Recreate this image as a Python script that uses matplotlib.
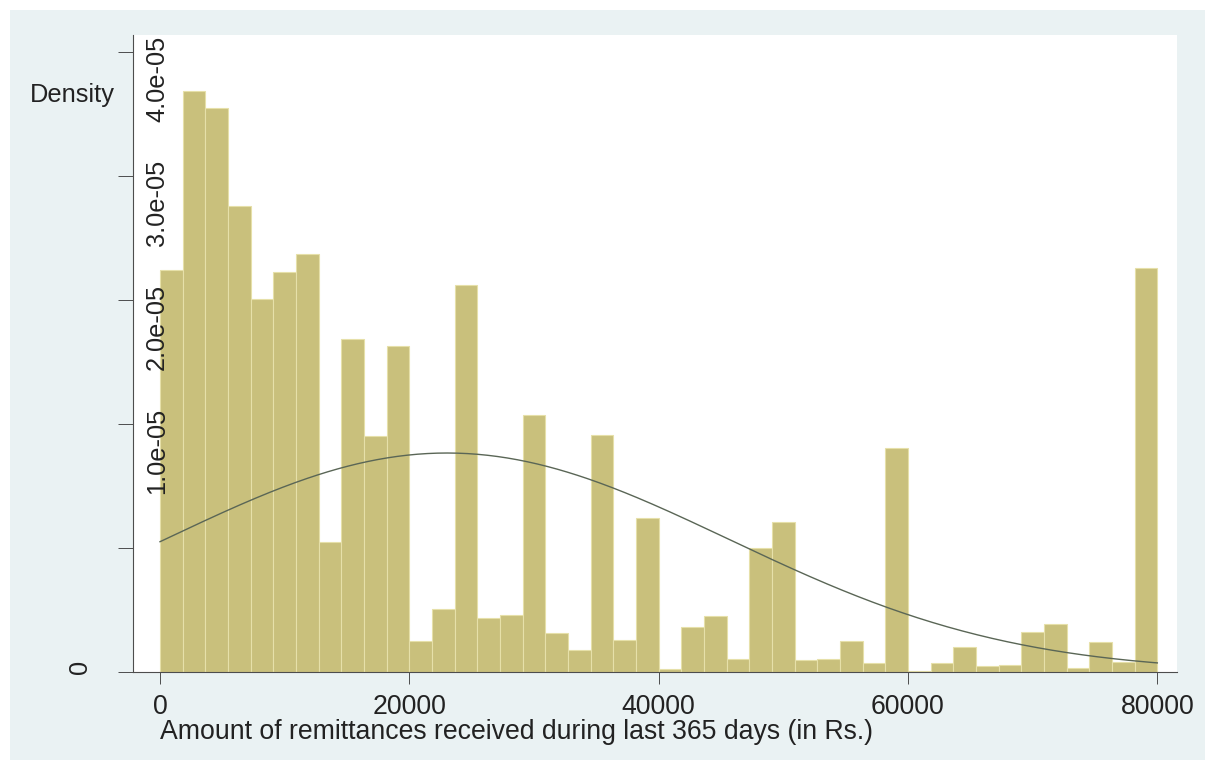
import numpy as np
import matplotlib
matplotlib.use("Agg")
import matplotlib.pyplot as plt
from matplotlib.patches import Rectangle
from matplotlib.transforms import ScaledTranslation, blended_transform_factory

# Histogram of remittance amounts: 44 equal-width bins over 0-80000 Rs.
BIN_START = 0.0
BIN_END = 80000.0
N_BINS = 44
DENSITY = [
    3.242e-5, 4.685e-5, 4.548e-5, 3.758e-5, 3.008e-5, 3.226e-5, 3.371e-5, 1.048e-5,
    2.685e-5, 1.903e-5, 2.629e-5, 0.250e-5, 0.508e-5, 3.121e-5, 0.435e-5, 0.460e-5,
    2.073e-5, 0.315e-5, 0.177e-5, 1.911e-5, 0.258e-5, 1.242e-5, 0.024e-5, 0.363e-5,
    0.452e-5, 0.105e-5, 1.000e-5, 1.210e-5, 0.097e-5, 0.105e-5, 0.250e-5, 0.073e-5,
    1.806e-5, 0.008e-5, 0.073e-5, 0.202e-5, 0.048e-5, 0.056e-5, 0.323e-5, 0.387e-5,
    0.032e-5, 0.242e-5, 0.081e-5, 3.258e-5,
]

# Overlaid normal density
NORMAL_MEAN = 23020.0
NORMAL_SD = 22590.0

X_TICKS = [0, 20000, 40000, 60000, 80000]
X_TICK_LABELS = ["0", "20000", "40000", "60000", "80000"]
Y_TICKS = [0, 1e-5, 2e-5, 3e-5, 4e-5, 5e-5]
Y_TICK_LABELS = ["0", "", "1.0e-05", "2.0e-05", "3.0e-05", "4.0e-05"]

X_TITLE = "Amount of remittances received during last 365 days (in Rs.)"
Y_TITLE = "Density"

W, H, DPI = 1209, 770, 100
FONT = "Liberation Sans"
FS = 18.3
FS_X = 19.2
BG = "#EAF2F3"
BAR = "#C9C07C"
BAR_EDGE = "#E6E0A9"
AXIS = "#4d4d4d"
CURVE = "#5A6656"
TXT = "#222222"

plt.rcParams["font.family"] = [FONT, "DejaVu Sans"]

fig = plt.figure(figsize=(W / DPI, H / DPI), dpi=DPI, facecolor="white")
fig.patches.append(Rectangle((10 / W, 10 / H), (1205 - 10) / W, (760 - 10) / H,
                             transform=fig.transFigure, facecolor=BG,
                             edgecolor="none", zorder=-10))

left, right, top, bottom = 133, 1177, 35, 672
ax = fig.add_axes([left / W, (H - bottom) / H, (right - left) / W, (bottom - top) / H])
ax.set_facecolor("white")

width = (BIN_END - BIN_START) / N_BINS
edges = BIN_START + width * np.arange(N_BINS)
ax.bar(edges, DENSITY, width=width, align="edge", color=BAR,
       edgecolor=BAR_EDGE, linewidth=0.8, zorder=2)

xs = np.linspace(BIN_START, BIN_END, 400)
pdf = np.exp(-0.5 * ((xs - NORMAL_MEAN) / NORMAL_SD) ** 2) / (NORMAL_SD * np.sqrt(2 * np.pi))
ax.plot(xs, pdf, color=CURVE, linewidth=1.0, zorder=3)

# axis ranges
px_per_unit = (1157.3 - 160.0) / 80000.0
ax.set_xlim((left - 160.0) / px_per_unit, (right - 160.0) / px_per_unit)
ax.set_ylim(0, (bottom - top) / 124.0 * 1e-5)

for s in ("top", "right"):
    ax.spines[s].set_visible(False)
for s in ("left", "bottom"):
    ax.spines[s].set_color(AXIS)
    ax.spines[s].set_linewidth(0.8)

ax.set_xticks(X_TICKS)
ax.set_xticklabels(X_TICK_LABELS, fontsize=FS_X, color=TXT)
ax.tick_params(axis="x", length=8.6, width=0.7, color=AXIS, pad=7)
ax.set_yticks(Y_TICKS)
ax.set_yticklabels([])
ax.tick_params(axis="y", length=10.8, width=0.7, color=AXIS)

# rotated y tick labels
ytr = ax.get_yaxis_transform()
for val, lab in zip(Y_TICKS, Y_TICK_LABELS):
    if not lab:
        continue
    if val == 0:
        dx, dy = -53, 5
    else:
        dx, dy = 24, -27
    off = ScaledTranslation(dx / DPI, dy / DPI, fig.dpi_scale_trans)
    ax.text(0, val, lab, transform=ytr + off, rotation=90, ha="center", va="center",
            fontsize=FS, color=TXT, zorder=4)

fig.text(30 / W, 1 - 95 / H, Y_TITLE, ha="left", va="center", fontsize=FS, color=TXT)
xt = blended_transform_factory(ax.transData, fig.transFigure)
ax.text(0, 1 - 732 / H, X_TITLE, transform=xt, ha="left", va="center",
        fontsize=FS_X, color=TXT)

fig.savefig("out.png", dpi=DPI, facecolor="white")
